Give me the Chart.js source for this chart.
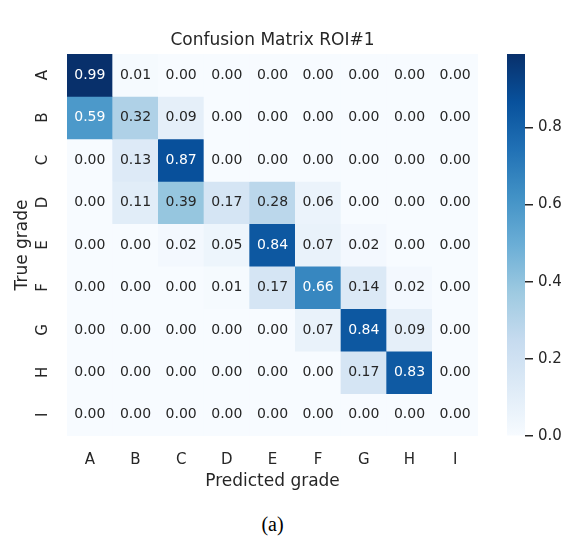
<!DOCTYPE html>
<html>
<head>
<meta charset="utf-8">
<script src="https://cdn.jsdelivr.net/npm/chart.js@4.4.1/dist/chart.umd.min.js"></script>
<style>
body { margin: 0; background: #fff; }
#wrap { position: relative; width: 570px; height: 538px; }
#heat { position: absolute; left: 0; top: 0; }
#bar { position: absolute; left: 480px; top: 0; }
#cap { position: absolute; left: 0; width: 545px; top: 514px; line-height: 20px; text-align: center; font-size: 20px; font-family: "Liberation Serif", serif; color: #000; }
</style>
</head>
<body>
<div id="wrap">
<canvas id="heat" width="500" height="500"></canvas>
<canvas id="bar" width="90" height="500"></canvas>
<div id="cap">(a)</div>
</div>
<script>
// labels
predLabels = ['A', 'B', 'C', 'D', 'E', 'F', 'G', 'H', 'I']
trueLabels = ['A', 'B', 'C', 'D', 'E', 'F', 'G', 'H', 'I']

// one row per true grade
rowA = [0.99, 0.01, 0.00, 0.00, 0.00, 0.00, 0.00, 0.00, 0.00]
rowB = [0.59, 0.32, 0.09, 0.00, 0.00, 0.00, 0.00, 0.00, 0.00]
rowC = [0.00, 0.13, 0.87, 0.00, 0.00, 0.00, 0.00, 0.00, 0.00]
rowD = [0.00, 0.11, 0.39, 0.17, 0.28, 0.06, 0.00, 0.00, 0.00]
rowE = [0.00, 0.00, 0.02, 0.05, 0.84, 0.07, 0.02, 0.00, 0.00]
rowF = [0.00, 0.00, 0.00, 0.01, 0.17, 0.66, 0.14, 0.02, 0.00]
rowG = [0.00, 0.00, 0.00, 0.00, 0.00, 0.07, 0.84, 0.09, 0.00]
rowH = [0.00, 0.00, 0.00, 0.00, 0.00, 0.00, 0.17, 0.83, 0.00]
rowI = [0.00, 0.00, 0.00, 0.00, 0.00, 0.00, 0.00, 0.00, 0.00]
matrix = [rowA, rowB, rowC, rowD, rowE, rowF, rowG, rowH, rowI]

titleText = 'Confusion Matrix ROI#1'
vmin = 0
vmax = Math.max.apply(null, matrix.map(r => Math.max.apply(null, r)))

// matplotlib "Blues"
blues = ['#f7fbff', '#deebf7', '#c6dbef', '#9ecae1', '#6baed6', '#4292c6', '#2171b5', '#08519c', '#08306b']
ink = '#262626'

Chart.defaults.font.family = '"DejaVu Sans"'
Chart.defaults.color = ink

function hexRgb(h) {
	return [parseInt(h.substr(1, 2), 16), parseInt(h.substr(3, 2), 16), parseInt(h.substr(5, 2), 16)]
}

function cmap(v) {
	t = Math.min(1, Math.max(0, (v - vmin) / (vmax - vmin))) * (blues.length - 1)
	k = Math.min(blues.length - 2, Math.floor(t))
	f = t - k
	a = hexRgb(blues[k]); b = hexRgb(blues[k + 1])
	return a.map((c, i) => Math.round(c + (b[i] - c) * f))
}

function textColor(rgb) {
	lum = rgb.map(c => {
		c = c / 255
		return c <= 0.03928 ? c / 12.92 : Math.pow((c + 0.055) / 1.055, 2.4)
	})
	l = 0.2126 * lum[0] + 0.7152 * lum[1] + 0.0722 * lum[2]
	return l > 0.408 ? ink : '#ffffff'
}

var cellText = {
	id: 'cellText',
	afterDatasetsDraw(chart) {
		const ctx = chart.ctx
		ctx.save()
		ctx.font = '14px "DejaVu Sans"'
		ctx.textAlign = 'center'
		ctx.textBaseline = 'middle'
		matrix.forEach((row, i) => {
			chart.getDatasetMeta(i).data.forEach((el, j) => {
				ctx.fillStyle = textColor(cmap(row[j]))
				ctx.fillText(row[j].toFixed(2), el.x, (el.y + el.base) / 2)
			})
		})
		ctx.restore()
	},
	afterDraw(chart) {
		const ctx = chart.ctx
		const a = chart.chartArea
		const ys = chart.scales.y
		ctx.save()
		ctx.fillStyle = ink
		ctx.textAlign = 'center'
		ctx.textBaseline = 'middle'
		ctx.font = '17px "DejaVu Sans"'
		ctx.fillText(titleText, (a.left + a.right) / 2, 41)
		ctx.font = '15px "DejaVu Sans"'
		trueLabels.forEach((lab, i) => {
			ctx.save()
			ctx.translate(a.left - 24, ys.getPixelForValue(i + 0.5))
			ctx.rotate(-Math.PI / 2)
			ctx.fillText(lab, 0, 0)
			ctx.restore()
		})
		ctx.restore()
	}
}

new Chart(document.getElementById('heat'), {
	type: 'bar',
	data: {
		labels: predLabels,
		datasets: matrix.map((row, i) => ({
			label: trueLabels[i],
			data: row.map(() => [i, i + 1]),
			backgroundColor: row.map(v => 'rgb(' + cmap(v).join(',') + ')'),
			borderWidth: 0,
			barPercentage: 1,
			categoryPercentage: 1,
			grouped: false,
		}))
	},
	options: {
		responsive: false,
		animation: false,
		layout: { padding: { top: 54, right: 22, left: 0, bottom: 0 } },
		plugins: { legend: { display: false }, tooltip: { enabled: false } },
		scales: {
			x: {
				type: 'category',
				offset: true,
				grid: { display: false },
				border: { display: false },
				ticks: { font: { size: 15 }, color: ink, padding: 7 },
				title: { display: true, text: 'Predicted grade', font: { size: 17 }, color: ink, padding: { top: 0, bottom: 8 } },
				afterFit: s => { s.height = 64 }
			},
			y: {
				type: 'linear',
				min: 0,
				max: trueLabels.length,
				reverse: true,
				grid: { display: false },
				border: { display: false },
				ticks: { display: false },
				title: { display: true, text: 'True grade', font: { size: 17 }, color: ink, padding: { top: 12, bottom: 0 } },
				afterFit: s => { s.width = 67 }
			}
		}
	},
	plugins: [cellText]
})

new Chart(document.getElementById('bar'), {
	type: 'bar',
	data: {
		labels: ['scale'],
		datasets: [{
			data: [[vmin, vmax]],
			backgroundColor: c => {
				const ch = c.chart
				if (!ch.chartArea) return blues[0]
				const ys = ch.scales.y
				const g = ch.ctx.createLinearGradient(0, ys.getPixelForValue(vmin), 0, ys.getPixelForValue(vmax))
				blues.forEach((col, k) => g.addColorStop(k / (blues.length - 1), col))
				return g
			},
			borderWidth: 0,
			barPercentage: 1,
			categoryPercentage: 1,
		}]
	},
	options: {
		responsive: false,
		animation: false,
		layout: { padding: { top: 54, left: 27, right: 0, bottom: 64 } },
		plugins: { legend: { display: false }, tooltip: { enabled: false } },
		scales: {
			x: { display: false },
			y: {
				position: 'right',
				min: vmin,
				max: vmax,
				border: { display: false },
				grid: { drawOnChartArea: false, drawTicks: true, tickLength: 8, color: ink, lineWidth: 1.5 },
				ticks: {
					stepSize: 0.2,
					includeBounds: false,
					padding: 5,
					font: { size: 15 },
					color: ink,
					callback: v => v.toFixed(1)
				},
				afterFit: s => { s.width = 45 }
			}
		}
	}
})
</script>
</body>
</html>
